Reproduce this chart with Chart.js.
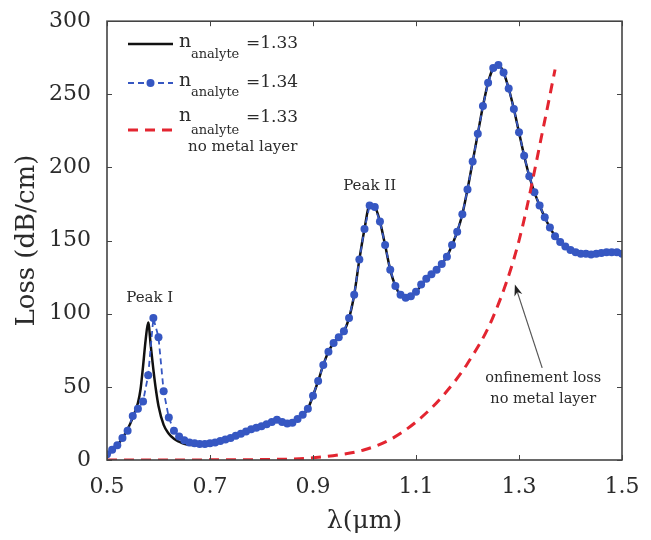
<!DOCTYPE html>
<html lang="en">
<head>
<meta charset="UTF-8">
<title>Loss spectrum</title>
<style>
    body { margin: 0; background: #fff; }
    canvas { display: block; }
</style>
<script src="https://cdn.jsdelivr.net/npm/chart.js"></script>
</head>
<body>
<canvas id="chart" width="651" height="540"></canvas>
<script>
// wavelength (um) and loss (dB/cm)
const blueWl = [
    0.50, 0.51, 0.52, 0.53, 0.54, 0.55, 0.56, 0.57, 0.58, 0.59,
    0.60, 0.61, 0.62, 0.63, 0.64, 0.65, 0.66, 0.67, 0.68, 0.69,
    0.70, 0.71, 0.72, 0.73, 0.74, 0.75, 0.76, 0.77, 0.78, 0.79,
    0.80, 0.81, 0.82, 0.83, 0.84, 0.85, 0.86, 0.87, 0.88, 0.89,
    0.90, 0.91, 0.92, 0.93, 0.94, 0.95, 0.96, 0.97, 0.98, 0.99,
    1.00, 1.01, 1.02, 1.03, 1.04, 1.05, 1.06, 1.07, 1.08, 1.09,
    1.10, 1.11, 1.12, 1.13, 1.14, 1.15, 1.16, 1.17, 1.18, 1.19,
    1.20, 1.21, 1.22, 1.23, 1.24, 1.25, 1.26, 1.27, 1.28, 1.29,
    1.30, 1.31, 1.32, 1.33, 1.34, 1.35, 1.36, 1.37, 1.38, 1.39,
    1.40, 1.41, 1.42, 1.43, 1.44, 1.45, 1.46, 1.47, 1.48, 1.49, 1.50
];
const blueLoss = [
    4, 7, 10, 15, 20, 30, 35, 40, 58, 97,
    84, 47, 29, 20, 16, 13.5, 12, 11.5, 11, 11,
    11.5, 12, 13, 14, 15, 16.5, 18, 19.5, 21, 22,
    23, 24.5, 26, 27.5, 26, 25, 25.5, 28, 31, 35,
    44, 54, 65, 74, 80, 84, 88, 97, 113, 137,
    158, 174, 173, 163, 147, 130, 119, 113, 111, 112,
    115, 120, 124, 127, 130, 134, 139, 147, 156, 168,
    185, 204, 223, 242, 258, 268, 270, 265, 254, 240,
    224, 208, 194, 183, 174, 166, 159, 153, 149, 146,
    143.5, 142, 141, 141, 140.5, 141, 141.5, 142, 142, 142, 141
];

const blackWl = [
    0.50, 0.51, 0.52, 0.53, 0.54, 0.55, 0.56,
    0.565, 0.57, 0.575, 0.58, 0.585, 0.59, 0.595, 0.60,
    0.61, 0.62, 0.63, 0.64, 0.65, 0.66, 0.67, 0.68, 0.69, 0.70,
    0.72, 0.74, 0.76, 0.78, 0.80, 0.82,
    0.83, 0.84, 0.85, 0.86, 0.87, 0.88, 0.89, 0.90, 0.91, 0.92,
    0.93, 0.94, 0.95, 0.96, 0.97, 0.98, 0.99, 1.00, 1.01, 1.02,
    1.03, 1.04, 1.05, 1.06, 1.07, 1.08, 1.09, 1.10,
    1.12, 1.14, 1.16,
    1.17, 1.18, 1.19, 1.20, 1.21, 1.22, 1.23, 1.24, 1.25, 1.26, 1.27,
    1.28, 1.29, 1.30, 1.31, 1.32, 1.33, 1.34, 1.35, 1.36, 1.37, 1.38,
    1.40, 1.42, 1.44, 1.46, 1.48, 1.50
];
const blackLoss = [
    4, 6, 10, 15, 21, 29, 39,
    48, 64, 82, 94, 78, 62, 48, 37,
    24, 18, 14.5, 12.5, 11, 10.5, 10.3, 10.5, 11, 11.5,
    13, 15, 18, 21, 23, 26,
    27.5, 26, 25, 25.5, 28, 31, 35, 44, 54, 65,
    74, 80, 84, 88, 97, 113, 137, 158, 174, 173,
    163, 147, 130, 119, 113, 111, 112, 115,
    124, 130, 139,
    147, 156, 168, 185, 204, 223, 242, 258, 268, 270, 265,
    254, 240, 224, 208, 194, 183, 174, 166, 159, 153, 149,
    143.5, 142, 141, 141.5, 142, 141
];

const redWl   = [0.50, 0.60, 0.70, 0.80, 0.85, 0.90, 0.95, 1.00, 1.05, 1.10, 1.15, 1.20, 1.25, 1.30, 1.35, 1.37];
const redLoss = [0, 0, 0.1, 0.3, 0.6, 1.5, 3.5, 7, 14, 26, 43, 66, 98, 150, 232, 267];

const xTicks = [0.5, 0.7, 0.9, 1.1, 1.3, 1.5];
const yTicks = [0, 50, 100, 150, 200, 250, 300];

const legendValues = ['=1.33', '=1.34', '=1.33'];

const serif = "'DejaVu Serif', 'Liberation Serif', serif";
const ink = '#2b2b2b';

function pts(xs, ys) {
    return xs.map((x, i) => ({ x: x, y: ys[i] }));
}

function font(size) {
    return size + 'px ' + serif;
}

const decorations = {
    id: 'decorations',
    afterDatasetsDraw(chart) {
        const { ctx, chartArea: a, scales: { x, y } } = chart;
        ctx.save();
        ctx.strokeStyle = '#444';
        ctx.lineWidth = 1;
        ctx.beginPath();
        xTicks.forEach(v => {
            const px = Math.round(x.getPixelForValue(v)) + 0.5;
            ctx.moveTo(px, a.bottom); ctx.lineTo(px, a.bottom - 5);
            ctx.moveTo(px, a.top); ctx.lineTo(px, a.top + 5);
        });
        yTicks.forEach(v => {
            const py = Math.round(y.getPixelForValue(v)) + 0.5;
            ctx.moveTo(a.left, py); ctx.lineTo(a.left + 5, py);
            ctx.moveTo(a.right, py); ctx.lineTo(a.right - 5, py);
        });
        ctx.stroke();
        ctx.lineWidth = 1.6;
        ctx.strokeRect(a.left, a.top, a.right - a.left, a.bottom - a.top);
        ctx.restore();
    },
    afterDraw(chart) {
        const { ctx, scales: { x, y } } = chart;
        const ds = chart.data.datasets;
        ctx.save();

        // legend, drawn by hand because of the subscripts
        const rows = [
            { line: 44, n: 47, sub: 58 },
            { line: 83, n: 86, sub: 96 },
            { line: 130, n: 121, sub: 134 }
        ];
        rows.forEach((r, i) => {
            const d = ds[i];
            ctx.strokeStyle = d.borderColor;
            ctx.lineWidth = d.borderWidth;
            ctx.setLineDash(d.borderDash || []);
            ctx.beginPath();
            ctx.moveTo(128, r.line);
            ctx.lineTo(173, r.line);
            ctx.stroke();
            ctx.setLineDash([]);
            if (d.pointRadius > 0) {
                ctx.fillStyle = d.pointBackgroundColor;
                ctx.beginPath();
                ctx.arc(150.5, r.line, d.pointRadius, 0, Math.PI * 2);
                ctx.fill();
            }
            ctx.fillStyle = ink;
            ctx.textAlign = 'left';
            ctx.textBaseline = 'alphabetic';
            ctx.font = font(19);
            ctx.fillText('n', 179, r.n);
            ctx.font = font(13);
            ctx.fillText('analyte', 191, r.sub);
            ctx.font = font(17);
            ctx.fillText(legendValues[i], 246, r.n + 1);
        });
        ctx.font = font(15);
        ctx.fillText('no metal layer', 188, 151);

        // annotations
        ctx.textAlign = 'center';
        ctx.textBaseline = 'middle';
        ctx.font = font(15);
        ctx.fillText('Peak I', x.getPixelForValue(0.583), y.getPixelForValue(111));
        ctx.fillText('Peak II', x.getPixelForValue(1.01), y.getPixelForValue(187));
        ctx.font = font(14.5);
        ctx.fillText('onfinement loss', x.getPixelForValue(1.347), y.getPixelForValue(56));
        ctx.fillText('no metal layer', x.getPixelForValue(1.347), y.getPixelForValue(41.5));

        // arrow
        const x0 = x.getPixelForValue(1.345), y0 = y.getPixelForValue(63);
        const x1 = x.getPixelForValue(1.292), y1 = y.getPixelForValue(120);
        const ang = Math.atan2(y1 - y0, x1 - x0);
        ctx.strokeStyle = '#555';
        ctx.lineWidth = 1.2;
        ctx.beginPath();
        ctx.moveTo(x0, y0);
        ctx.lineTo(x1 - 8 * Math.cos(ang), y1 - 8 * Math.sin(ang));
        ctx.stroke();
        ctx.fillStyle = '#222';
        ctx.beginPath();
        ctx.moveTo(x1, y1);
        ctx.lineTo(x1 - 12 * Math.cos(ang - 0.35), y1 - 12 * Math.sin(ang - 0.35));
        ctx.lineTo(x1 - 8 * Math.cos(ang), y1 - 8 * Math.sin(ang));
        ctx.lineTo(x1 - 12 * Math.cos(ang + 0.35), y1 - 12 * Math.sin(ang + 0.35));
        ctx.closePath();
        ctx.fill();

        ctx.restore();
    }
};

const chart = new Chart(document.getElementById('chart').getContext('2d'), {
    type: 'line',
    data: {
        datasets: [{
            label: 'n_analyte=1.33',
            data: pts(blackWl, blackLoss),
            borderColor: '#111',
            borderWidth: 2.5,
            pointRadius: 0,
            cubicInterpolationMode: 'monotone',
            order: 3
        }, {
            label: 'n_analyte=1.34',
            data: pts(blueWl, blueLoss),
            borderColor: '#3657c2',
            borderWidth: 1.8,
            borderDash: [6, 4],
            pointRadius: 4,
            pointBackgroundColor: '#3657c2',
            pointBorderWidth: 0,
            order: 2
        }, {
            label: 'n_analyte=1.33 no metal layer',
            data: pts(redWl, redLoss),
            borderColor: '#e32530',
            borderWidth: 3,
            borderDash: [10, 7],
            pointRadius: 0,
            cubicInterpolationMode: 'monotone',
            order: 1
        }]
    },
    options: {
        responsive: false,
        animation: false,
        layout: { padding: { top: 14, right: 29, left: 0, bottom: 0 } },
        plugins: {
            legend: { display: false },
            tooltip: { enabled: false }
        },
        scales: {
            x: {
                type: 'linear',
                min: 0.5,
                max: 1.5,
                afterFit: s => { s.height = 80; },
                afterBuildTicks: s => { s.ticks = xTicks.map(v => ({ value: v })); },
                grid: { display: false },
                border: { display: false },
                ticks: {
                    color: ink,
                    font: { family: serif, size: 22 },
                    padding: 6,
                    maxRotation: 0,
                    callback: v => v.toFixed(1)
                },
                title: {
                    display: true,
                    text: 'λ(μm)',
                    color: ink,
                    font: { family: serif, size: 25, lineHeight: 1.2 },
                    padding: { top: 0, bottom: 4 }
                }
            },
            y: {
                min: 0,
                max: 300,
                afterFit: s => { s.width = 107; },
                afterBuildTicks: s => { s.ticks = yTicks.map(v => ({ value: v })); },
                grid: { display: false },
                border: { display: false },
                ticks: {
                    color: ink,
                    font: { family: serif, size: 22 },
                    padding: 8
                },
                title: {
                    display: true,
                    text: 'Loss (dB/cm)',
                    color: ink,
                    font: { family: serif, size: 26, lineHeight: 1.2 },
                    padding: { top: 12, bottom: 0 }
                }
            }
        }
    },
    plugins: [decorations]
});
</script>
</body>
</html>
